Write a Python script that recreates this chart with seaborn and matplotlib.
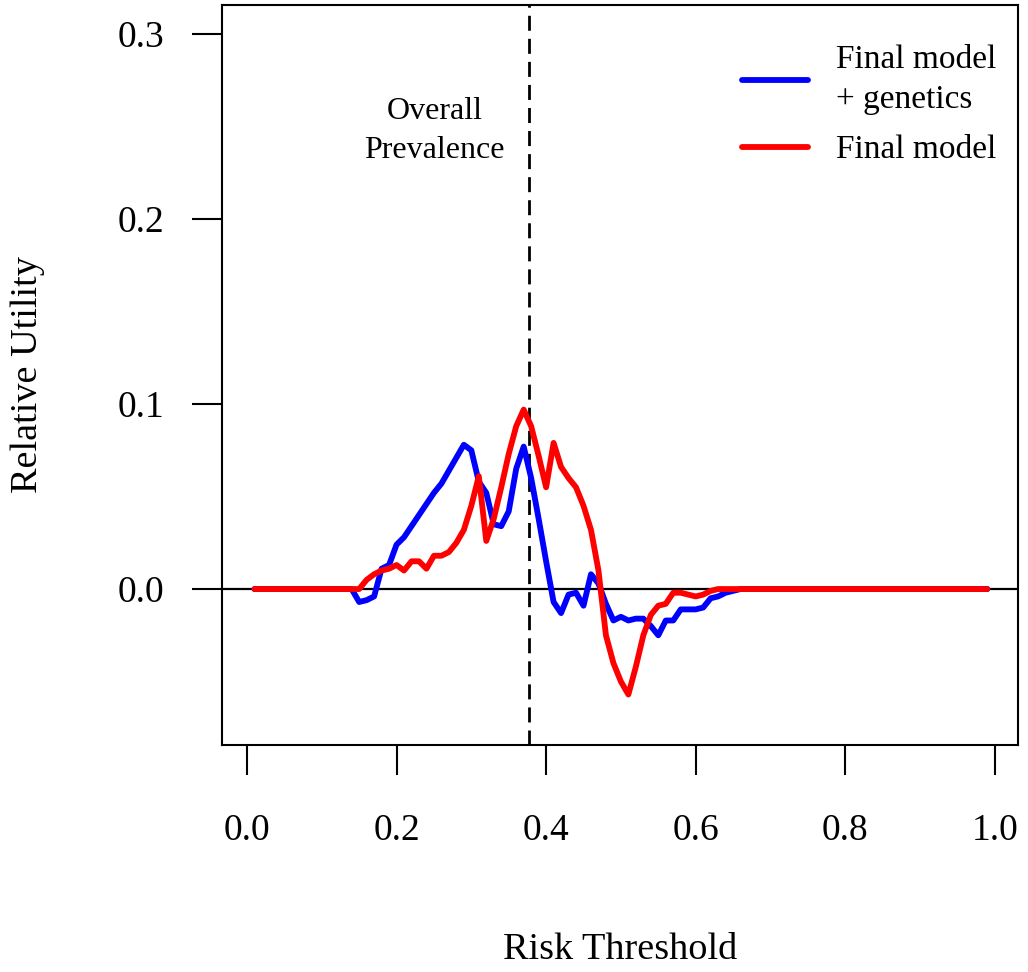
import numpy as np
import pandas as pd
import matplotlib
matplotlib.use("Agg")
import matplotlib.pyplot as plt
import seaborn as sns

# Risk thresholds 0.01 .. 0.99
thresholds = [round(0.01 * i, 2) for i in range(1, 100)]

# Relative utility, Final model + genetics (blue), values at 0.15..0.66
genetics_mid = [-0.007, -0.006, -0.004, 0.011, 0.013, 0.024, 0.028, 0.034, 0.040,
                0.046, 0.052, 0.057, 0.064, 0.071, 0.078, 0.075, 0.058, 0.052,
                0.035, 0.034, 0.042, 0.065, 0.077, 0.060, 0.038, 0.015, -0.007,
                -0.013, -0.003, -0.002, -0.009, 0.008, 0.003, -0.008, -0.017,
                -0.015, -0.017, -0.016, -0.016, -0.020, -0.025, -0.017, -0.017,
                -0.011, -0.011, -0.011, -0.010, -0.005, -0.004, -0.002, -0.001, 0.0]
# Relative utility, Final model (red), values at 0.15..0.66
final_mid = [0.000, 0.005, 0.008, 0.010, 0.011, 0.013, 0.010, 0.015, 0.015,
             0.011, 0.018, 0.018, 0.020, 0.025, 0.032, 0.045, 0.061, 0.026,
             0.038, 0.055, 0.073, 0.088, 0.097, 0.088, 0.072, 0.055, 0.079,
             0.066, 0.060, 0.055, 0.045, 0.032, 0.010, -0.025, -0.040, -0.050,
             -0.057, -0.042, -0.025, -0.014, -0.009, -0.008, -0.002, -0.002,
             -0.003, -0.004, -0.003, -0.001, 0.000, 0.000, 0.000, 0.0]

genetics = [0.0] * 14 + genetics_mid + [0.0] * (99 - 14 - len(genetics_mid))
final = [0.0] * 14 + final_mid + [0.0] * (99 - 14 - len(final_mid))

series_names = ["Final model\n+ genetics", "Final model"]
series_colors = ["#0000FF", "#FF0000"]
prevalence = 0.377

x_ticks = [0.0, 0.2, 0.4, 0.6, 0.8, 1.0]
x_ticklabels = ["0.0", "0.2", "0.4", "0.6", "0.8", "1.0"]
y_ticks = [0.0, 0.1, 0.2, 0.3]
y_ticklabels = ["0.0", "0.1", "0.2", "0.3"]

df = pd.DataFrame({
    "threshold": thresholds * 2,
    "utility": genetics + final,
    "model": [series_names[0]] * 99 + [series_names[1]] * 99,
})

sns.set_style("white")
plt.rcParams["font.family"] = ["Liberation Serif", "DejaVu Serif"]
plt.rcParams["text.color"] = "black"
plt.rcParams["axes.labelcolor"] = "black"
plt.rcParams["xtick.color"] = "black"
plt.rcParams["ytick.color"] = "black"

fig = plt.figure(figsize=(10.28, 9.72), dpi=100)
ax = fig.add_axes([222 / 1028, 1 - 745 / 972, (1018 - 222) / 1028, (745 - 5) / 972])

sns.lineplot(data=df, x="threshold", y="utility", hue="model",
             hue_order=series_names, palette=series_colors, linewidth=4.2,
             ax=ax, legend=True)

ax.axhline(0, color="black", linewidth=1.6, zorder=0)
ax.axvline(prevalence, color="black", linewidth=2, linestyle=(0, (5.4, 2.9)), zorder=1)

ax.text(0.251, 0.2476, "Overall\nPrevalence", ha="center", va="center",
        fontsize=23, linespacing=1.45, color="black")

ax.set_xlim(-0.0334, 1.031)
ax.set_ylim(-0.0843, 0.3157)
ax.set_xticks(x_ticks)
ax.set_xticklabels(x_ticklabels)
ax.set_yticks(y_ticks)
ax.set_yticklabels(y_ticklabels)
ax.tick_params(axis="both", direction="out", length=21.6, width=1.5,
               labelsize=27, color="black", labelcolor="black")
ax.tick_params(axis="x", pad=28)
ax.tick_params(axis="y", pad=20)
ax.tick_params(left=True, bottom=True)

for s in ax.spines.values():
    s.set_color("black")
    s.set_linewidth(1.5)

ax.set_xlabel("Risk Threshold", fontsize=27.5)
ax.set_ylabel("Relative Utility", fontsize=27.5)
ax.xaxis.set_label_coords(0.5, -0.277)
ax.xaxis.label.set_va("center")
ax.yaxis.set_label_coords(-0.244, 0.5)
ax.yaxis.label.set_va("center")

leg = ax.legend(loc="upper right", bbox_to_anchor=(0.973, 0.946), frameon=False,
                fontsize=24, handlelength=2.0, handletextpad=0.84,
                labelspacing=0.6, borderaxespad=0.0, borderpad=0.0)
for line in leg.get_lines():
    line.set_linewidth(4.2)
for t in leg.get_texts():
    t.set_color("black")
    t.set_linespacing(1.38)

fig.savefig("out.png", dpi=100)
